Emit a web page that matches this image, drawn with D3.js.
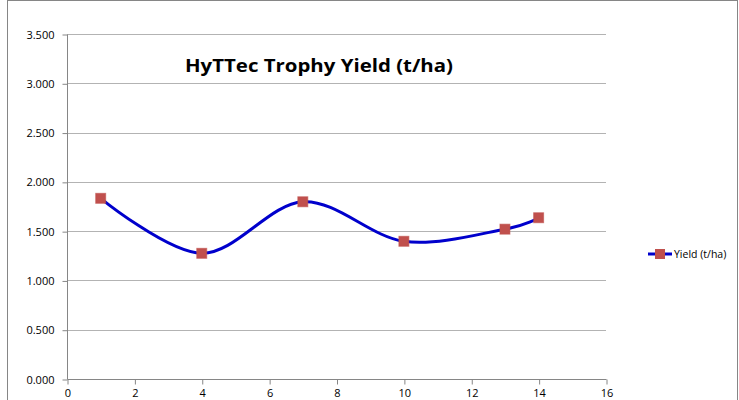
<!DOCTYPE html>
<html>
<head>
<meta charset="utf-8">
<script src="https://cdn.jsdelivr.net/npm/d3@7"></script>
<style>
  body { margin: 0; background: #fff; }
  text { font-family: "Open Sans", "Liberation Sans", sans-serif; fill: #000; }
</style>
</head>
<body>
<div></div>
<script>
var width = 739;
var height = 400;

// data
var days = [1, 4, 7, 10, 13, 14];
var yieldValues = [1.833, 1.275, 1.798, 1.397, 1.52, 1.636];
var seriesName = "Yield (t/ha)";
var chartTitle = "HyTTec Trophy Yield (t/ha)";
var yTicks = [0, 0.5, 1, 1.5, 2, 2.5, 3, 3.5];
var xTicks = [0, 2, 4, 6, 8, 10, 12, 14, 16];

var svg = d3.select("div")
	.append("svg")
	.attr("width", width)
	.attr("height", height);

// chart area border
svg.append("rect")
	.attr("x", 7.5)
	.attr("y", 0.5)
	.attr("width", 730)
	.attr("height", 430)
	.attr("fill", "#fff")
	.attr("stroke", "#868686");

var x = d3.scaleLinear().domain([0, 16]).range([67, 606]);
var y = d3.scaleLinear().domain([0, 3.5]).range([379, 34]);

// gridlines
svg.append("g")
	.selectAll("line")
	.data(yTicks.slice(1))
	.enter()
	.append("line")
	.attr("x1", x(0))
	.attr("x2", x(16))
	.attr("y1", d => Math.round(y(d)) + 0.5)
	.attr("y2", d => Math.round(y(d)) + 0.5)
	.attr("stroke", "#b3b3b3")
	.attr("stroke-width", 1);

var yAxis = svg.append("g")
	.attr("transform", "translate(" + (x(0) + 0.5) + ",0.5)")
	.call(d3.axisLeft(y).tickValues(yTicks).tickFormat(d3.format(".3f")).tickSize(5).tickPadding(8));

var xAxis = svg.append("g")
	.attr("transform", "translate(0.5," + (y(0) + 0.5) + ")")
	.call(d3.axisBottom(x).tickValues(xTicks).tickFormat(d3.format("d")).tickSize(5).tickPadding(5));

[yAxis, xAxis].forEach(a => {
	a.selectAll("path, line").attr("stroke", "#868686");
	a.selectAll("text").attr("font-size", 11).attr("fill", "#000");
});
// plain axis lines without end caps
yAxis.select(".domain").attr("d", "M0," + y(3.5) + "V" + y(0));
xAxis.select(".domain").attr("d", "M" + x(0) + ",0H" + x(16));

var pts = days.map((d, i) => [x(d), y(yieldValues[i])]);

svg.append("path")
	.attr("d", d3.line().curve(d3.curveCardinal.tension(0))(pts))
	.attr("fill", "none")
	.attr("stroke", "#0000cc")
	.attr("stroke-width", 3)
	.attr("stroke-linejoin", "round");

svg.append("g")
	.selectAll("rect")
	.data(pts)
	.enter()
	.append("rect")
	.attr("x", p => p[0] - 5)
	.attr("y", p => p[1] - 5)
	.attr("width", 10)
	.attr("height", 10)
	.attr("fill", "#c0504d")
	.attr("stroke", "#c0504d")
	.attr("stroke-opacity", 0.6);

// title
svg.append("text")
	.attr("x", 319)
	.attr("y", 72)
	.attr("text-anchor", "middle")
	.attr("font-size", 18)
	.attr("font-weight", "bold")
	.attr("textLength", 268)
	.attr("lengthAdjust", "spacingAndGlyphs")
	.text(chartTitle);

// legend
var legend = svg.append("g").attr("transform", "translate(648,254)");
legend.append("line")
	.attr("x1", 0).attr("x2", 24)
	.attr("stroke", "#0000cc")
	.attr("stroke-width", 3);
legend.append("rect")
	.attr("x", 7).attr("y", -5)
	.attr("width", 10).attr("height", 10)
	.attr("fill", "#c0504d");
legend.append("text")
	.attr("x", 26)
	.attr("y", 4)
	.attr("font-size", 10.5)
	.text(seriesName);
</script>
</body>
</html>
